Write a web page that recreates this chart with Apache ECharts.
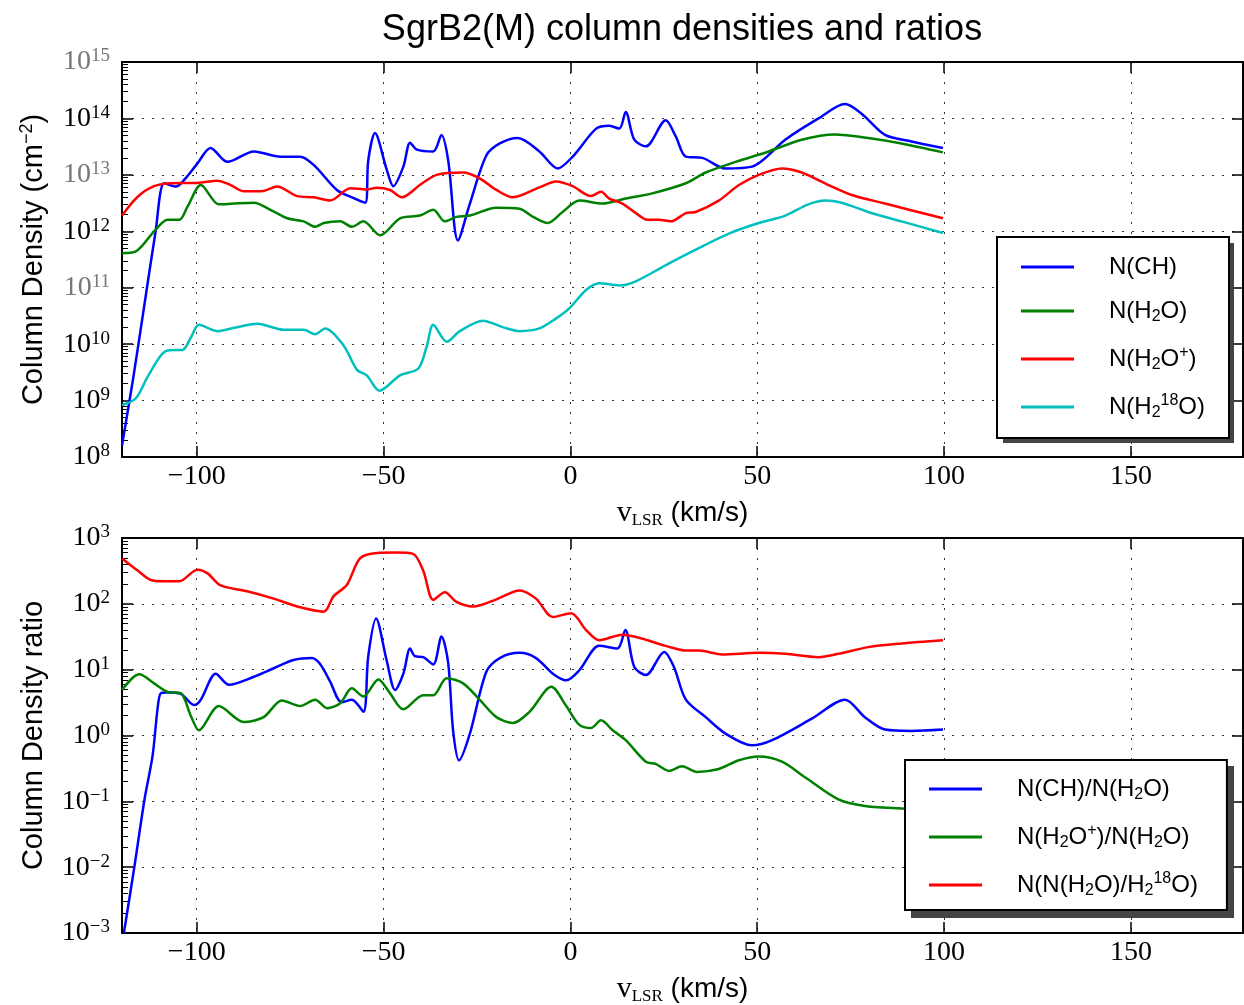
<!DOCTYPE html>
<html><head><meta charset="utf-8">
<script src="https://cdn.jsdelivr.net/npm/echarts@6/dist/echarts.min.js"></script>
<style>html,body{margin:0;padding:0;background:#fff}#c{width:1244px;height:1005px}</style>
</head><body><div id="c"></div><script>
// ---------- data ----------
const xTicks = [-100, -50, 0, 50, 100, 150];
const grayExps = [11, 13, 15];

// Top panel: column densities (cm^-2)
const chV = [-120,-117,-114,-111,-108.7,-105.6,-102.5,-99.8,-96.3,-91.8,-84.7,-77.6,-72.3,-68.7,-62.5,-58.9,-54.9,-54.1,-52.3,-49.1,-47.4,-44.7,-42.9,-41.1,-36.7,-34.5,-32.7,-30.1,-26.9,-22.5,-18.9,-14.1,-8.3,-3.4,0.6,6.9,10.4,13.1,14.8,17.1,20.2,25.5,28.2,30.9,35.3,41.5,48.6,57.5,66.4,73.5,78,84.2,91.3,99.7];
const chN = [1.6e8,2.5e9,5.0e10,1.0e12,7.1e12,6.2e12,9.5e12,1.6e13,3.0e13,1.7e13,2.6e13,2.1e13,2.1e13,1.5e13,5.4e12,4.1e12,3.2e12,1.8e13,5.5e13,1.2e13,6.3e12,1.4e13,3.7e13,2.8e13,2.6e13,5.1e13,1.8e13,6.9e11,3.1e12,2.2e13,3.6e13,4.5e13,2.6e13,1.3e13,2.1e13,6.6e13,7.4e13,6.6e13,1.3e14,4.2e13,3.2e13,9.3e13,4.8e13,2.1e13,2.0e13,1.3e13,1.4e13,4.2e13,1.0e14,1.8e14,1.2e14,5.1e13,3.9e13,3.0e13];

const h2oV = [-120,-116.3,-111.4,-107.8,-104.7,-102.5,-98.9,-94.1,-90.1,-84.7,-80.3,-75.8,-71.4,-68.3,-66,-61.6,-58.5,-55.4,-50.9,-45.6,-40.3,-36.7,-33.6,-30.5,-26.9,-19.8,-13.6,-10,-6.1,-2.1,2.4,8.6,14.8,21.9,30.9,36.2,44.2,53.1,61.9,70.8,79.7,88.6,99.7];
const h2oN = [4.1e11,4.4e11,1.0e12,1.6e12,1.6e12,2.7e12,6.6e12,3.0e12,3.1e12,3.2e12,2.4e12,1.7e12,1.5e12,1.2e12,1.4e12,1.5e12,1.2e12,1.5e12,8.5e11,1.7e12,1.9e12,2.4e12,1.5e12,1.8e12,1.9e12,2.6e12,2.5e12,1.8e12,1.4e12,2.2e12,3.5e12,3.1e12,3.8e12,4.7e12,7.1e12,1.1e13,1.7e13,2.6e13,4.2e13,5.2e13,4.5e13,3.6e13,2.5e13];

const h2opV = [-120,-115.8,-111.4,-106.9,-99.8,-94.5,-90.9,-87.4,-82.1,-78.5,-73.1,-68.7,-64.3,-58.9,-54.5,-51.8,-48.3,-45.1,-40.3,-35.8,-28.7,-24.3,-19.8,-15.4,-8.3,-3.8,0.6,5.5,8.2,10.4,13.9,17.5,20.6,23.7,26.9,30.9,33.5,39.7,45.1,50.4,56.6,61.9,69.1,75.3,84.2,99.7];
const h2opN = [1.9e12,4.1e12,6.3e12,7.1e12,7.2e12,7.9e12,6.6e12,5.1e12,5.2e12,6.2e12,4.2e12,4.0e12,3.5e12,5.8e12,5.5e12,5.9e12,5.4e12,4.0e12,6.6e12,1.0e13,1.1e13,8.7e12,5.4e12,4.0e12,6.0e12,7.6e12,6.3e12,4.2e12,5.0e12,3.8e12,3.1e12,2.1e12,1.6e12,1.6e12,1.5e12,2.1e12,2.2e12,3.5e12,6.6e12,1.0e13,1.3e13,1.1e13,6.6e12,4.4e12,3.1e12,1.7e12];

const h218oV = [-120,-116.3,-113.2,-109.6,-107.4,-103.8,-101.6,-99.4,-94.5,-89.2,-83.8,-76.7,-71.4,-68.3,-65.6,-60.7,-57.1,-54.5,-51.1,-45.6,-40.7,-38.5,-36.7,-33.1,-29.6,-23.4,-18.1,-13.6,-8.3,-4,-0.3,4.2,7.7,13.1,17.5,26.4,35.3,42.4,50.4,57.5,63.7,68.2,72.6,79.7,88.6,99.7];
const h218oN = [8.3e8,1.1e9,2.6e9,6.3e9,7.8e9,7.9e9,1.3e10,2.2e10,1.7e10,2.0e10,2.3e10,1.8e10,1.8e10,1.5e10,1.9e10,9.5e9,3.5e9,2.8e9,1.5e9,2.8e9,3.7e9,8.9e9,2.2e10,1.1e10,1.7e10,2.6e10,2.0e10,1.7e10,1.9e10,2.8e10,4.3e10,9.1e10,1.2e11,1.1e11,1.3e11,2.7e11,5.4e11,9.1e11,1.4e12,1.9e12,3.0e12,3.5e12,3.2e12,2.2e12,1.5e12,9.3e11];

// Bottom panel: ratios
const rChV = [-119.5,-116.7,-114,-111.8,-110.5,-109.6,-107.8,-104.3,-100.7,-98.9,-94.9,-91.4,-84.7,-79.4,-74.1,-69.2,-66.9,-64.3,-61.2,-58.5,-55.4,-54.1,-52,-49.2,-46.9,-44.7,-42.9,-41.6,-39.4,-36.7,-34.5,-32.7,-31.4,-29.8,-26.9,-22.5,-18.9,-13.6,-9.2,-4.7,-1.1,2.4,7.7,12.6,14.7,17.1,20.2,25.1,27.7,30.9,36.2,41.5,48.6,54,64.6,73.5,78.8,84.2,91.3,99.7];
const rChR = [1.0e-3,0.01,0.105,0.5,2.5,4.4,4.5,4.3,2.9,3.5,8.7,5.9,7.8,10.5,14,15,12,6.6,3.2,3.5,2.3,16,60,14,4.9,8.7,21,16,15.5,12,32,12.6,1.2,0.42,1.07,9.3,15,18,15,8.7,6.9,9.8,23,21,40,11,8.3,18.6,11,3.5,1.9,1.07,0.71,0.85,1.8,3.5,1.9,1.23,1.17,1.23];

const rH2opV = [-120,-115.4,-111.4,-107.8,-104.3,-101.6,-99.4,-94.1,-87.4,-82.1,-77.2,-72.3,-68.3,-65.1,-61.6,-58.5,-55.4,-51.4,-48.3,-44.7,-39.4,-36.7,-33.1,-28.7,-24.3,-19.8,-15.4,-10.9,-5.1,-1.1,2.4,5.5,8.2,11.3,14.8,20.2,22.8,26.4,29.9,33.9,39.7,45.1,50.4,56.6,62.9,71.7,78.8,88.6,99.7];
const rH2opR = [4.9,8.5,6.2,4.6,4.4,2.0,1.2,2.8,1.6,1.9,3.4,2.8,3.5,2.6,3.1,5.2,3.9,7.1,4.4,2.5,4.1,4.1,7.4,6.2,3.5,1.9,1.55,2.3,5.5,2.8,1.45,1.3,1.7,1.2,0.85,0.4,0.37,0.29,0.34,0.28,0.31,0.42,0.48,0.4,0.23,0.107,0.085,0.078,0.076];

const rIsoV = [-120,-115.8,-112.3,-108.7,-104.7,-99.8,-97.1,-93.6,-86.5,-79.4,-73.1,-66,-63.4,-59.8,-56.3,-51.8,-46.5,-42.1,-39.4,-36.7,-33.6,-30.5,-26,-19.8,-13.6,-9.2,-4.7,0.2,4.2,7.7,13.9,25.5,30.9,34.4,40.6,50.4,57.5,66.4,71.7,79.7,88.6,99.7];
const rIsoR = [490,320,230,220,220,330,290,190,155,120,91,76,130,195,490,590,600,575,320,115,150,107,91,117,160,120,63,72,40,28,34,23,19.5,19.5,17,18,17.4,15.5,17.4,22,25,28];

const topNames = ['N(CH)', 'N(H2O)', 'N(H2O+)', 'N(H2-18O)'];
const botNames = ['N(CH)/N(H2O)', 'N(H2O+)/N(H2O)', 'N(N(H2O)/H2-18O)'];
const legendRich = {
  'N(CH)': '{g| }{t|N(CH)}',
  'N(H2O)': '{g| }{t|N(H}{sub|2}{t|O)}',
  'N(H2O+)': '{g| }{t|N(H}{sub|2}{t|O}{sup|+}{t|)}',
  'N(H2-18O)': '{g| }{t|N(H}{sub|2}{sup|18}{t|O)}',
  'N(CH)/N(H2O)': '{g| }{t|N(CH)/N(H}{sub|2}{t|O)}',
  'N(H2O+)/N(H2O)': '{g| }{t|N(H}{sub|2}{t|O}{sup|+}{t|)/N(H}{sub|2}{t|O)}',
  'N(N(H2O)/H2-18O)': '{g| }{t|N(N(H}{sub|2}{t|O)/H}{sub|2}{sup|18}{t|O)}'
};

// ---------- helpers ----------
const zip = (xs, ys) => xs.map((x, i) => [x, ys[i]]);
const SERIF = 'Liberation Serif';
const SANS = 'Liberation Sans';
const minus = n => (n < 0 ? '\u2212' + (-n) : String(n));

function minorTicks(e0, e1) {
  const out = [];
  for (let e = e0; e < e1; e++) for (let k = 2; k <= 9; k++) out.push(k * Math.pow(10, e));
  return out;
}

const tickRich = {
  b: {fontFamily: SERIF, fontSize: 28, color: '#000', lineHeight: 30},
  bs: {fontFamily: SERIF, fontSize: 19, color: '#000', lineHeight: 18, verticalAlign: 'top'},
  g: {fontFamily: SERIF, fontSize: 28, color: '#777', lineHeight: 30},
  gs: {fontFamily: SERIF, fontSize: 19, color: '#777', lineHeight: 18, verticalAlign: 'top'}
};
function expLabel(v) {
  const e = Math.round(Math.log10(v));
  const st = grayExps.indexOf(e) >= 0 ? 'g' : 'b';
  return '{' + st + '|10}{' + st + 's|' + minus(e) + '}';
}

const gridLine = {show: true, lineStyle: {color: '#333', width: 1, type: [2, 8]}};
const frame = {show: true, onZero: false, lineStyle: {color: '#000', width: 2}};

function xAxes(gi) {
  return [
    {type: 'value', gridIndex: gi, position: 'bottom', min: -120, max: 180,
     axisLine: frame,
     axisTick: {show: true, inside: true, length: 11, customValues: xTicks, lineStyle: {color: '#000', width: 1.5}},
     axisLabel: {show: true, customValues: xTicks, margin: 6, fontFamily: SERIF, fontSize: 28, color: '#000', formatter: v => minus(v)},
     splitLine: gridLine,
     name: '{v|v}{l|LSR}{t| (km/s)}', nameLocation: 'middle', nameGap: 40,
     nameTextStyle: {rich: {
       v: {fontFamily: SERIF, fontSize: 30, color: '#000', lineHeight: 32},
       l: {fontFamily: SERIF, fontSize: 17, color: '#000', lineHeight: 14, verticalAlign: 'bottom'},
       t: {fontFamily: SANS, fontSize: 28, color: '#000', lineHeight: 32}}}},
    {type: 'value', gridIndex: gi, position: 'top', min: -120, max: 180,
     axisLine: frame,
     axisTick: {show: true, inside: true, length: 11, customValues: xTicks, lineStyle: {color: '#000', width: 1.5}},
     axisLabel: {show: false}, splitLine: {show: false}}
  ];
}
function yAxes(gi, lo, hi, name, nameRich) {
  return [
    {type: 'log', logBase: 10, gridIndex: gi, position: 'left', min: Math.pow(10, lo), max: Math.pow(10, hi), interval: 1,
     axisLine: frame,
     axisTick: {show: true, inside: true, length: 11, lineStyle: {color: '#000', width: 1.5}},
     axisLabel: {show: true, margin: 12, formatter: expLabel, rich: tickRich},
     splitLine: gridLine,
     name: name, nameLocation: 'middle', nameGap: 72, nameRotate: 90,
     nameTextStyle: {rich: nameRich}},
    {type: 'log', logBase: 10, gridIndex: gi, position: 'left', min: Math.pow(10, lo), max: Math.pow(10, hi),
     axisLine: {show: false, onZero: false},
     axisTick: {show: true, inside: true, length: 6, customValues: minorTicks(lo, hi), lineStyle: {color: '#000', width: 1}},
     axisLabel: {show: false}, splitLine: {show: false}},
    {type: 'log', logBase: 10, gridIndex: gi, position: 'right', min: Math.pow(10, lo), max: Math.pow(10, hi), interval: 1,
     axisLine: frame,
     axisTick: {show: true, inside: true, length: 11, lineStyle: {color: '#000', width: 1.5}},
     axisLabel: {show: false}, splitLine: {show: false}}
  ];
}

const nameT = {fontFamily: SANS, fontSize: 29, color: '#000', lineHeight: 32};
const nameSup = {fontFamily: SANS, fontSize: 18, color: '#000', lineHeight: 16, verticalAlign: 'top'};

function line(name, data, color, xi, yi) {
  return {name: name, type: 'line', xAxisIndex: xi, yAxisIndex: yi, data: data,
    showSymbol: false, symbol: 'none', smooth: 0.3, silent: true, clip: true,
    lineStyle: {color: color, width: 2.5}, itemStyle: {color: color}, z: 3};
}

const legendBase = {
  orient: 'vertical', icon: 'rect', itemWidth: 53, itemHeight: 3, itemGap: 20,
  selectedMode: false, backgroundColor: '#fff', borderColor: '#000', borderWidth: 2, borderRadius: 0,
  z: 5,
  formatter: n => legendRich[n],
  textStyle: {rich: {
    g: {width: 30, fontSize: 12},
    t: {fontFamily: SANS, fontSize: 24, color: '#000', lineHeight: 28},
    sub: {fontFamily: SANS, fontSize: 16, color: '#000', lineHeight: 12, verticalAlign: 'bottom'},
    sup: {fontFamily: SANS, fontSize: 16, color: '#000', lineHeight: 12, verticalAlign: 'top'}
  }}
};

const chart = echarts.init(document.getElementById('c'), null, {renderer: 'canvas'});
chart.setOption({
  animation: false,
  backgroundColor: '#fff',
  title: {text: 'SgrB2(M) column densities and ratios', left: 682, top: 12, padding: 0, textAlign: 'center',
    textStyle: {fontFamily: SANS, fontSize: 36, fontWeight: 'normal', color: '#000'}},
  grid: [
    {left: 122, top: 62, width: 1121, height: 395, outerBoundsMode: 'none', containLabel: false},
    {left: 122, top: 538, width: 1121, height: 395, outerBoundsMode: 'none', containLabel: false}
  ],
  xAxis: [].concat(xAxes(0), xAxes(1)),
  yAxis: [].concat(
    yAxes(0, 8, 15, '{t|Column Density (cm}{s|\u22122}{t|)}', {t: nameT, s: nameSup}),
    yAxes(1, -3, 3, '{t|Column Density ratio}', {t: nameT})
  ),
  legend: [
    Object.assign({}, legendBase, {left: 997, top: 237, padding: [18, 24, 17, 24], data: topNames}),
    Object.assign({}, legendBase, {left: 905, top: 760, padding: [17, 29, 11, 24], data: botNames})
  ],
  graphic: [
    {type: 'rect', silent: true, z: 4, shape: {x: 1003, y: 243, width: 231, height: 200}, style: {fill: '#444'}},
    {type: 'rect', silent: true, z: 4, shape: {x: 911, y: 766, width: 323, height: 152}, style: {fill: '#444'}}
  ],
  series: [
    line('N(CH)', zip(chV, chN), '#0000ff', 0, 0),
    line('N(H2O)', zip(h2oV, h2oN), '#008000', 0, 0),
    line('N(H2O+)', zip(h2opV, h2opN), '#ff0000', 0, 0),
    line('N(H2-18O)', zip(h218oV, h218oN), '#00bfbf', 0, 0),
    line('N(CH)/N(H2O)', zip(rChV, rChR), '#0000ff', 2, 3),
    line('N(H2O+)/N(H2O)', zip(rH2opV, rH2opR), '#008000', 2, 3),
    line('N(N(H2O)/H2-18O)', zip(rIsoV, rIsoR), '#ff0000', 2, 3)
  ]
});
</script></body></html>
